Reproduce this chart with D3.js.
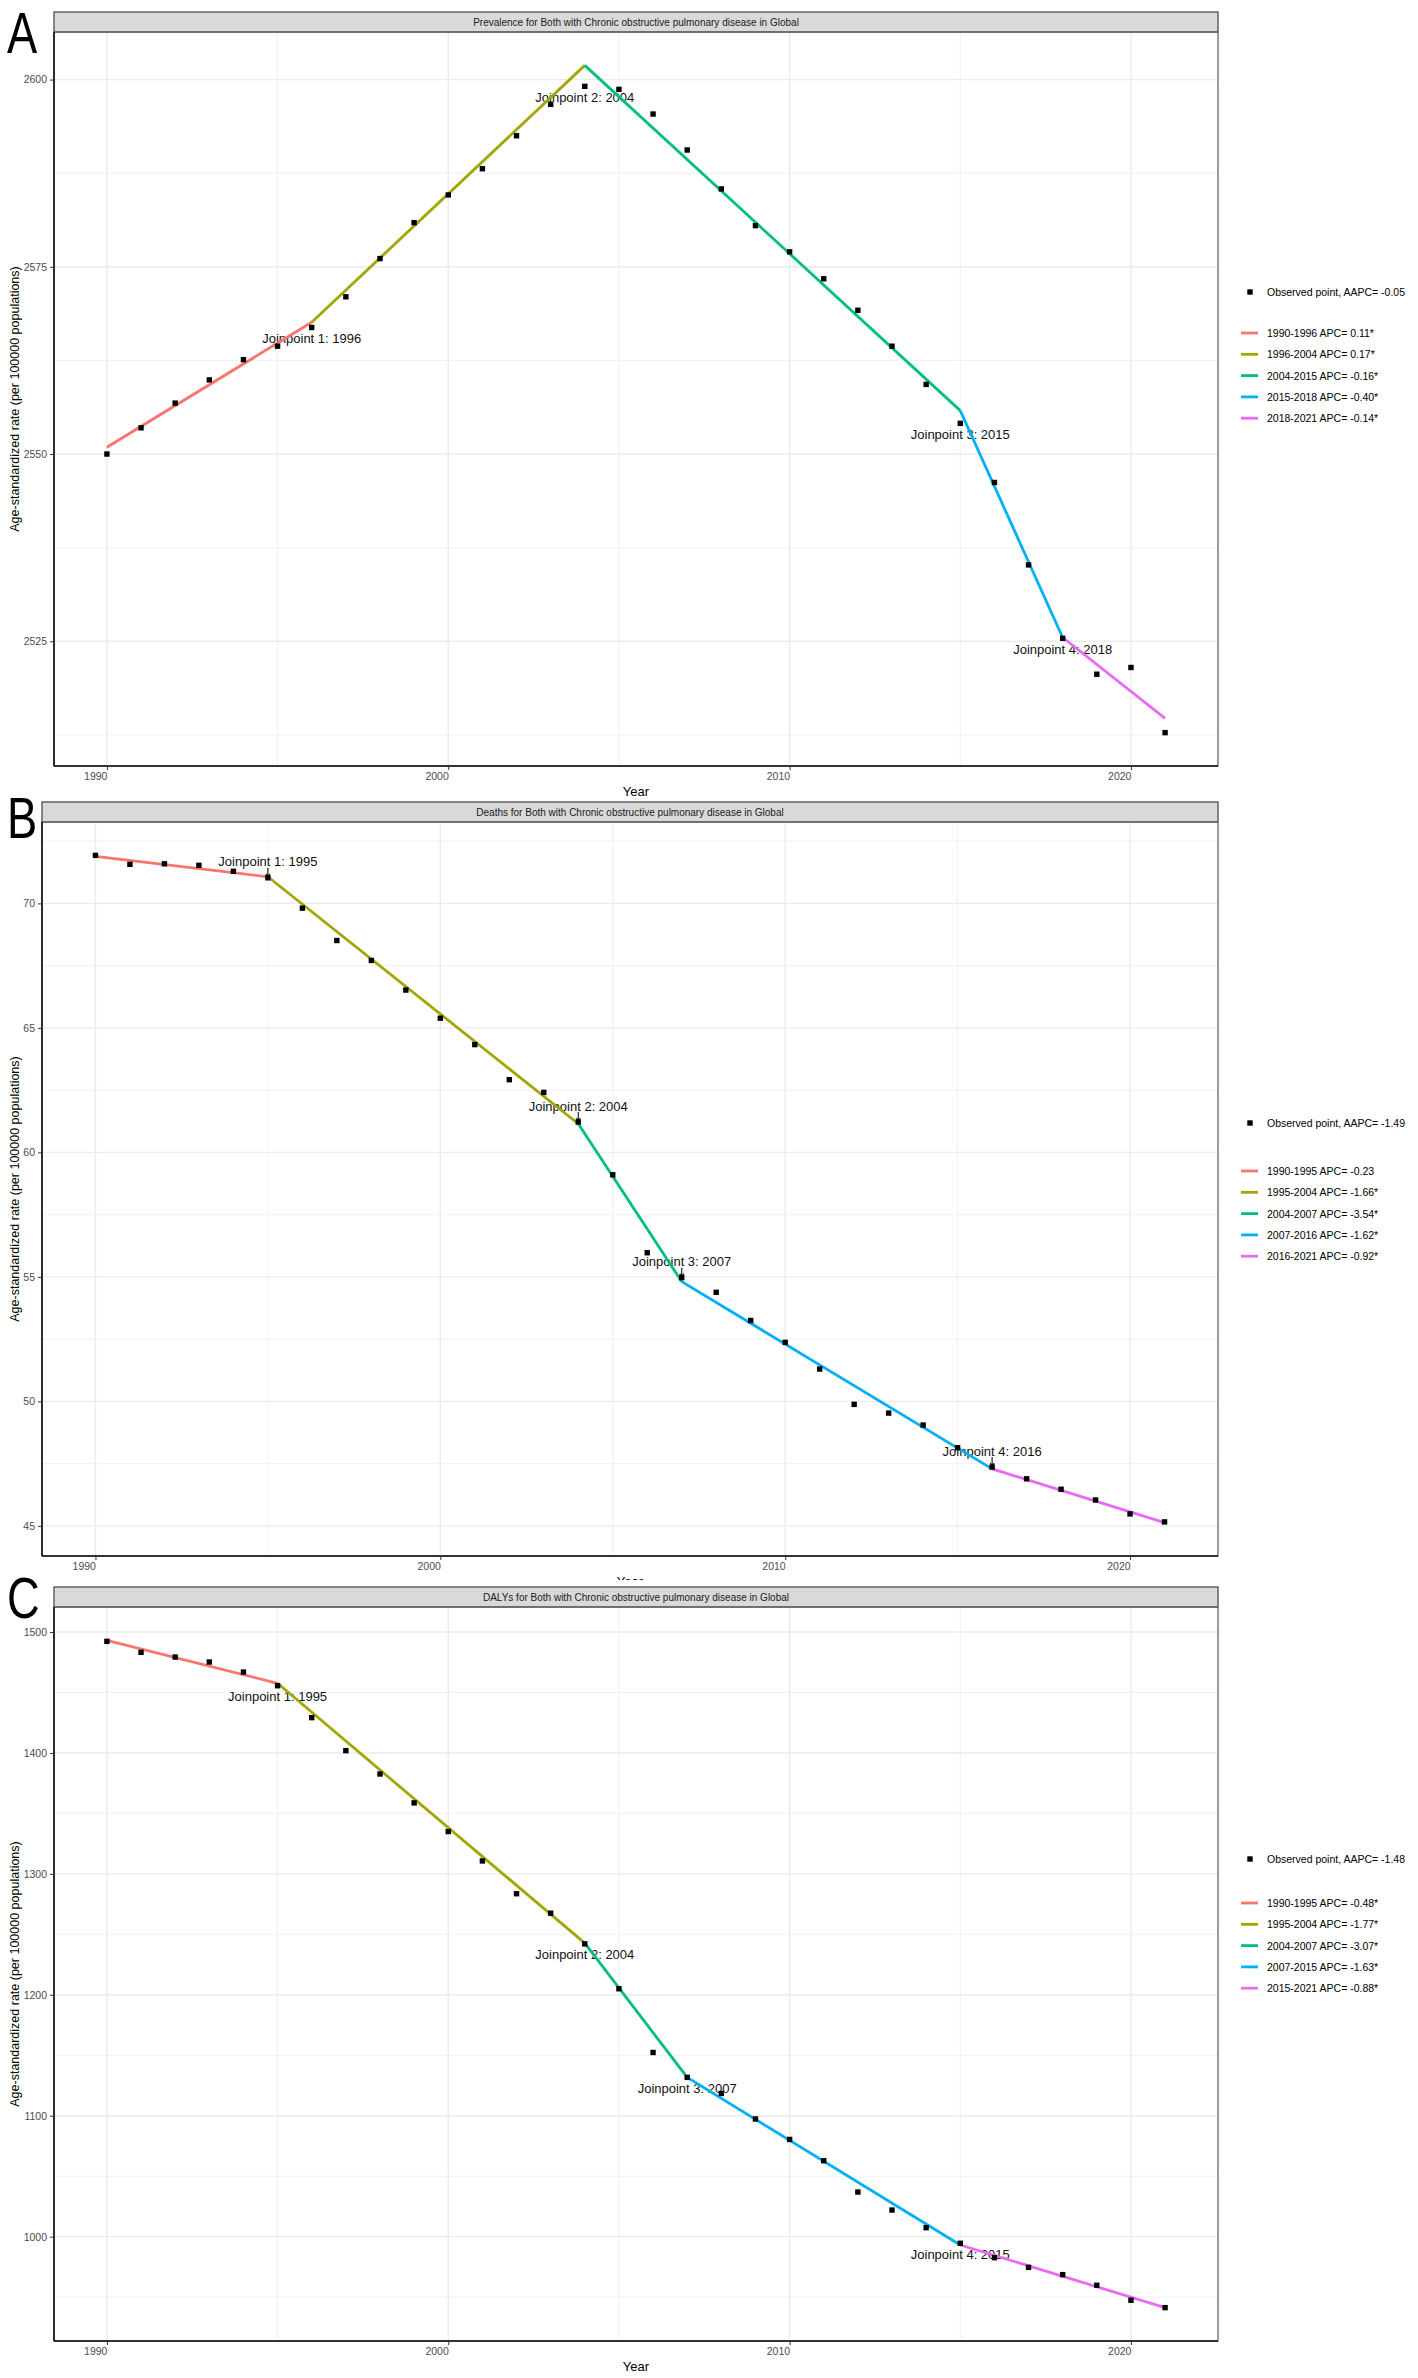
<!DOCTYPE html>
<html>
<head>
<meta charset="utf-8">
<script src="https://cdn.jsdelivr.net/npm/d3@7"></script>
<style>
body{margin:0;background:#fff}
svg{display:block}
text{font-family:"Liberation Sans",Arial,Helvetica,sans-serif}
</style>
</head>
<body>
<svg width="1418" height="2378"></svg>
<script>
(()=>{

//observed years
let years = [1990,1991,1992,1993,1994,1995,1996,1997,1998,1999,2000,2001,2002,2003,2004,2005,
	2006,2007,2008,2009,2010,2011,2012,2013,2014,2015,2016,2017,2018,2019,2020,2021];

//A: prevalence
let prevObs = [2550.0,2553.5,2556.8,2559.9,2562.6,2564.4,2566.9,2571.0,2576.1,2580.9,2584.6,2588.1,
	2592.5,2596.7,2599.1,2598.7,2595.4,2590.6,2585.4,2580.5,2577.0,2573.4,2569.2,2564.4,
	2559.3,2554.1,2546.2,2535.2,2525.4,2520.6,2521.5,2512.8];
let prevJoin = [1990,1996,2004,2015,2018,2021];
let prevFit = [2550.9,2567.6,2601.9,2555.8,2525.5,2514.7];
let prevAapc = "Observed point, AAPC= -0.05";
let prevApc = ["1990-1996 APC= 0.11*","1996-2004 APC= 0.17*","2004-2015 APC= -0.16*","2015-2018 APC= -0.40*","2018-2021 APC= -0.14*"];
let prevTicks = [2525,2550,2575,2600];

//B: deaths
let deathObs = [71.93,71.57,71.59,71.53,71.29,71.03,69.81,68.51,67.71,66.52,65.39,64.33,
	62.92,62.41,61.22,59.10,55.97,54.97,54.38,53.25,52.37,51.30,49.88,49.53,
	49.05,48.14,47.36,46.89,46.47,46.04,45.48,45.16];
let deathJoin = [1990,1995,2004,2007,2016,2021];
let deathFit = [71.89,71.07,61.15,54.81,47.29,45.13];
let deathAapc = "Observed point, AAPC= -1.49";
let deathApc = ["1990-1995 APC= -0.23","1995-2004 APC= -1.66*","2004-2007 APC= -3.54*","2007-2016 APC= -1.62*","2016-2021 APC= -0.92*"];
let deathTicks = [45,50,55,60,65,70];

//C: DALYs
let dalyObs = [1492.3,1483.2,1479.3,1475.2,1466.9,1455.6,1429.2,1401.9,1382.6,1358.7,1335.0,1310.7,
	1283.6,1267.5,1242.1,1205.0,1152.3,1131.7,1118.4,1097.3,1080.4,1062.8,1036.9,1022.0,
	1007.4,994.5,982.6,974.6,968.6,959.8,947.4,941.3];
let dalyJoin = [1990,1995,2004,2007,2015,2021];
let dalyFit = [1493.1,1457.6,1242.7,1131.7,993.1,941.3];
let dalyAapc = "Observed point, AAPC= -1.48";
let dalyApc = ["1990-1995 APC= -0.48*","1995-2004 APC= -1.77*","2004-2007 APC= -3.07*","2007-2015 APC= -1.63*","2015-2021 APC= -0.88*"];
let dalyTicks = [1000,1100,1200,1300,1400,1500];

let yearTicks = [1990,2000,2010,2020];
let segColors = ["#F8766D","#A3A500","#00BF7D","#00B0F6","#E76BF3"];

let svg = d3.select("svg");
let font = '"Liberation Sans",Arial,Helvetica,sans-serif';

let panels = [
	{letter:"A", title:"Prevalence for Both with Chronic obstructive pulmonary disease in Global",
	 obs:prevObs, join:prevJoin, fit:prevFit, aapc:prevAapc, apc:prevApc, ticks:prevTicks,
	 l:54, r:1218, t:32, b:766, letterY:53, legY:292, legLineY:333, above:false, cover:null},
	{letter:"B", title:"Deaths for Both with Chronic obstructive pulmonary disease in Global",
	 obs:deathObs, join:deathJoin, fit:deathFit, aapc:deathAapc, apc:deathApc, ticks:deathTicks,
	 l:42, r:1218, t:822, b:1556, letterY:838, legY:1123, legLineY:1171, above:true, cover:null},
	{letter:"C", title:"DALYs for Both with Chronic obstructive pulmonary disease in Global",
	 obs:dalyObs, join:dalyJoin, fit:dalyFit, aapc:dalyAapc, apc:dalyApc, ticks:dalyTicks,
	 l:54, r:1218, t:1607, b:2341, letterY:1618, legY:1859, legLineY:1903, above:false, cover:1580}
];

panels.forEach(drawPanel);

function drawPanel(p){
	//white sheet so the next figure hides the tail of the previous one
	if(p.cover!==null){
		svg.append("rect").attr("x",0).attr("y",p.cover).attr("width",1418).attr("height",2378-p.cover).attr("fill","#fff");
	}
	let g = svg.append("g");

	//scales with ggplot style 5% expansion
	let span = years[years.length-1]-years[0];
	let x = d3.scaleLinear()
		.domain([years[0]-0.05*span, years[years.length-1]+0.05*span])
		.range([p.l, p.r]);
	let ext = d3.extent(p.obs.concat(p.fit));
	let pad = (ext[1]-ext[0])*0.05;
	let y = d3.scaleLinear().domain([ext[0]-pad, ext[1]+pad]).range([p.b, p.t]);

	//minor breaks halfway between majors
	let step = p.ticks[1]-p.ticks[0];
	let yMinor = [p.ticks[0]-step/2].concat(p.ticks.map(d => d+step/2))
		.filter(d => d>y.domain()[0] && d<y.domain()[1]);
	let xMinor = [1985,1995,2005,2015,2025].filter(d => d>x.domain()[0] && d<x.domain()[1]);

	//grid
	g.selectAll(".ymin").data(yMinor).enter().append("line")
		.attr("x1",p.l).attr("x2",p.r).attr("y1",d => y(d)).attr("y2",d => y(d))
		.attr("stroke","#ededed").attr("stroke-width",0.8);
	g.selectAll(".xmin").data(xMinor).enter().append("line")
		.attr("y1",p.t).attr("y2",p.b).attr("x1",d => x(d)).attr("x2",d => x(d))
		.attr("stroke","#ededed").attr("stroke-width",0.8);
	g.selectAll(".ymaj").data(p.ticks).enter().append("line")
		.attr("x1",p.l).attr("x2",p.r).attr("y1",d => y(d)).attr("y2",d => y(d))
		.attr("stroke","#ebebeb").attr("stroke-width",1.4);
	g.selectAll(".xmaj").data(yearTicks).enter().append("line")
		.attr("y1",p.t).attr("y2",p.b).attr("x1",d => x(d)).attr("x2",d => x(d))
		.attr("stroke","#ebebeb").attr("stroke-width",1.4);

	//strip
	g.append("rect").attr("x",p.l).attr("y",p.t-20).attr("width",p.r-p.l).attr("height",20)
		.attr("fill","#d9d9d9").attr("stroke","#4d4d4d").attr("stroke-width",1.3);
	g.append("text").attr("x",(p.l+p.r)/2).attr("y",p.t-10).attr("text-anchor","middle")
		.attr("dominant-baseline","central").attr("font-size",10).attr("fill","#1a1a1a").text(p.title);

	//joinpoint labels (drawn under the lines)
	let inner = p.join.slice(1,-1);
	inner.forEach((yr,i) => {
		let py = y(p.obs[years.indexOf(yr)]);
		let ty = p.above ? py-16 : py+11;
		g.append("text").attr("x",x(yr)).attr("y",ty).attr("text-anchor","middle")
			.attr("dominant-baseline","central").attr("font-size",13).attr("fill","#111")
			.text("Joinpoint "+(i+1)+": "+yr);
		if(p.above){
			let ax = x(yr);
			g.append("path")
				.attr("d",`M${ax},${py-10}L${ax},${py-1}M${ax-2},${py-4}L${ax},${py-1}L${ax+2},${py-4}`)
				.attr("fill","none").attr("stroke","#111").attr("stroke-width",1.1);
		}
	});

	//fitted segments
	let line = d3.line().x(d => x(d[0])).y(d => y(d[1]));
	for(let i=0;i<p.join.length-1;i++){
		g.append("path")
			.attr("d",line([[p.join[i],p.fit[i]],[p.join[i+1],p.fit[i+1]]]))
			.attr("fill","none").attr("stroke",segColors[i]).attr("stroke-width",2.8);
	}

	//observed points
	g.selectAll(".pt").data(p.obs).enter().append("rect")
		.attr("x",(d,i) => x(years[i])-2.7).attr("y",d => y(d)-2.7)
		.attr("width",5.4).attr("height",5.4).attr("fill","#000");

	//panel border and axis lines
	g.append("rect").attr("x",p.l).attr("y",p.t).attr("width",p.r-p.l).attr("height",p.b-p.t)
		.attr("fill","none").attr("stroke","#666").attr("stroke-width",1.3);
	g.append("line").attr("x1",p.l).attr("x2",p.l).attr("y1",p.t).attr("y2",p.b).attr("stroke","#111").attr("stroke-width",1.6);
	g.append("line").attr("x1",p.l).attr("x2",p.r).attr("y1",p.b).attr("y2",p.b).attr("stroke","#111").attr("stroke-width",1.6);

	//axes
	let xa = g.append("g").attr("transform",`translate(0,${p.b})`)
		.call(d3.axisBottom(x).tickValues(yearTicks).tickFormat(d3.format("d")).tickSize(4).tickPadding(3));
	xa.select(".domain").remove();
	xa.attr("font-family",font).attr("font-size",10.5);
	xa.selectAll("line").attr("stroke","#333");
	xa.selectAll("text").attr("text-anchor","end").attr("fill","#4d4d4d");

	let ya = g.append("g").attr("transform",`translate(${p.l},0)`)
		.call(d3.axisLeft(y).tickValues(p.ticks).tickFormat(d3.format("d")).tickSize(4).tickPadding(3));
	ya.select(".domain").remove();
	ya.attr("font-family",font).attr("font-size",10.5);
	ya.selectAll("line").attr("stroke","#333");
	ya.selectAll("text").attr("fill","#4d4d4d");

	//axis titles
	g.append("text").attr("x",(p.l+p.r)/2).attr("y",p.b+30).attr("text-anchor","middle")
		.attr("font-size",13).attr("fill","#000").text("Year");
	g.append("text").attr("transform",`translate(15,${(p.t+p.b)/2}) rotate(-90)`)
		.attr("text-anchor","middle").attr("dominant-baseline","central")
		.attr("font-size",12.5).attr("fill","#000").text("Age-standardized rate (per 100000 populations)");

	//legend
	let lg = g.append("g");
	lg.append("rect").attr("x",1247.3).attr("y",p.legY-2.7).attr("width",5.4).attr("height",5.4).attr("fill","#000");
	lg.append("text").attr("x",1267).attr("y",p.legY).attr("dominant-baseline","central")
		.attr("font-size",10.5).attr("fill","#000").text(p.aapc);
	p.apc.forEach((t,i) => {
		let ly = p.legLineY + i*21.3;
		lg.append("line").attr("x1",1241).attr("x2",1258).attr("y1",ly).attr("y2",ly)
			.attr("stroke",segColors[i]).attr("stroke-width",2.8);
		lg.append("text").attr("x",1267).attr("y",ly).attr("dominant-baseline","central")
			.attr("font-size",10.5).attr("fill","#000").text(t);
	});

	//figure letter, narrow and tall like the reference
	svg.append("text").attr("transform",`translate(7,${p.letterY}) scale(0.78,1)`)
		.attr("font-size",58).attr("fill","#000").text(p.letter);
}

})();
</script>
</body>
</html>
